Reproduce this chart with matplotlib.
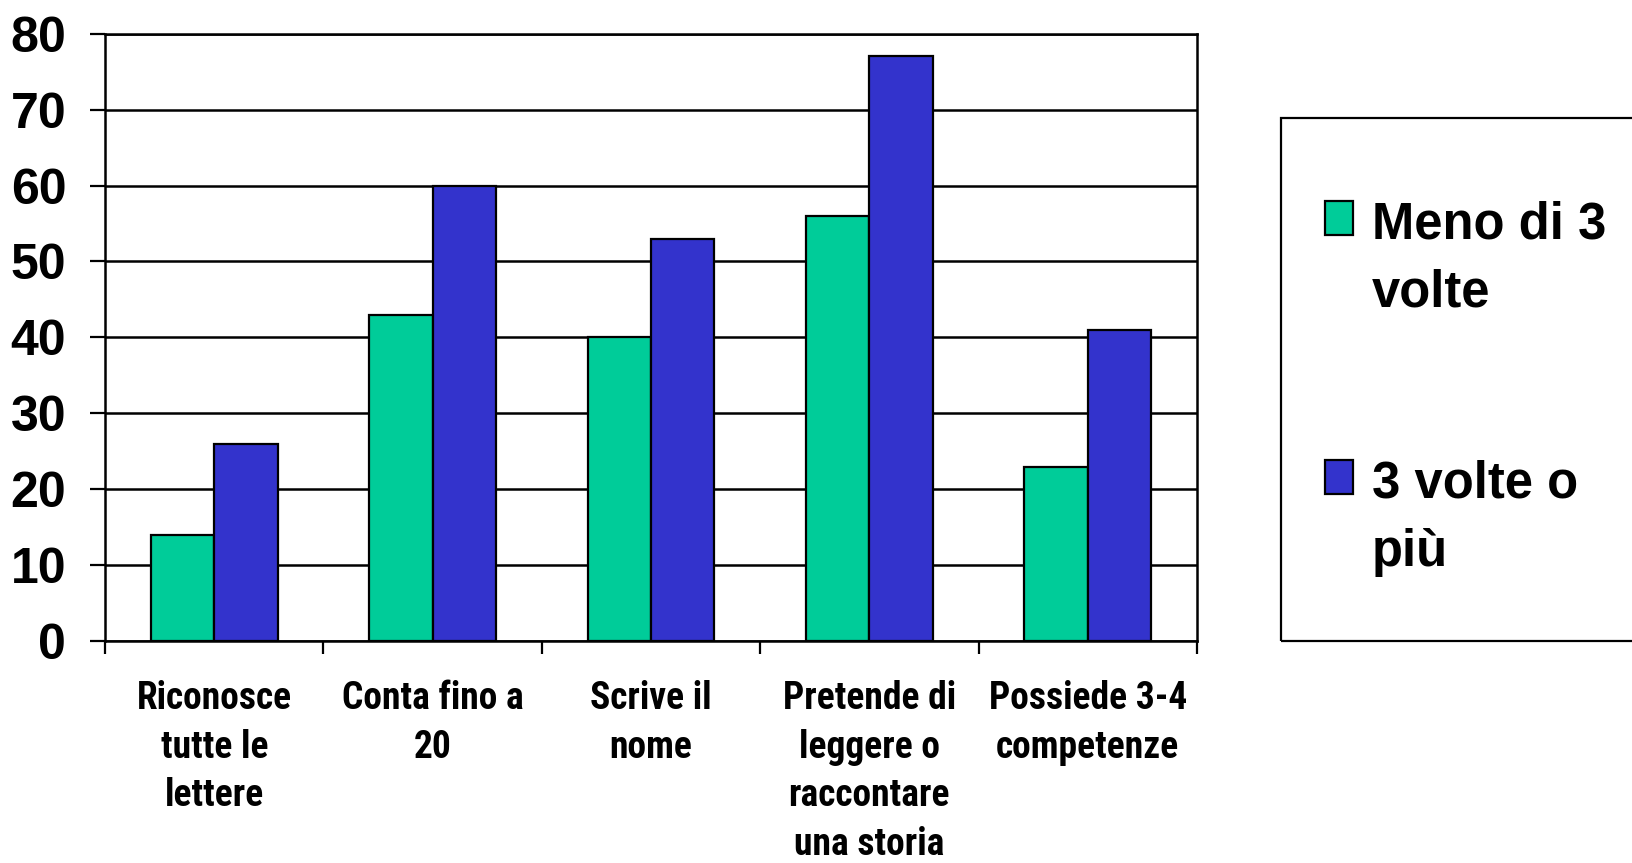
import numpy as np
import matplotlib.pyplot as plt
from matplotlib.patches import Rectangle

# Dati
categorie = ['Riconosce\ntutte le\nlettere', 'Conta fino a\n20', 'Scrive il\nnome',
             'Pretende di\nleggere o\nraccontare\nuna storia', 'Possiede 3-4\ncompetenze']
meno_di_3 = [14, 43, 40, 56, 23]
tre_o_piu = [26, 60, 53, 77, 41]
serie = ['Meno di 3\nvolte', '3 volte o\npiù']
colori = ['#00CC99', '#3333CC']

fig = plt.figure(figsize=(16.32, 8.63), dpi=100)
ax = fig.add_axes([0.0644, 0.257, 0.669, 0.704])

x = np.arange(len(categorie))
w = 0.29
ax.bar(x - w / 2, meno_di_3, w, color=colori[0], edgecolor='black', linewidth=1.6, zorder=3)
ax.bar(x + w / 2, tre_o_piu, w, color=colori[1], edgecolor='black', linewidth=1.6, zorder=3)

ax.set_xlim(-0.5, len(categorie) - 0.5)
ax.set_ylim(0, 80)
ax.set_yticks(np.arange(0, 81, 10))
ax.yaxis.grid(True, color='black', linewidth=1.8)
ax.set_axisbelow(True)

# tacche sui confini delle categorie, etichette al centro
ax.set_xticks(np.arange(-0.5, len(categorie), 1))
ax.set_xticklabels([])
ax.set_xticks(x, categorie, minor=True)
ax.tick_params(axis='x', which='major', length=9, width=1.6, direction='out')
ax.tick_params(axis='x', which='minor', length=0, pad=28)
ax.tick_params(axis='y', length=11, width=1.6, pad=17)

for s in ax.spines.values():
    s.set_linewidth(1.8)

for t in ax.get_yticklabels():
    t.set_family('Liberation Sans')
    t.set_fontweight('bold')
    t.set_fontsize(36)
for t in ax.get_xticklabels(minor=True):
    t.set_family(['Roboto Condensed', 'Liberation Sans'])
    t.set_fontweight('bold')
    t.set_fontsize(27)
    t.set_linespacing(1.40)
    t.set_verticalalignment('top')

# legenda: cornice che esce dal bordo destro, quadratini allineati alla prima riga
fig.add_artist(Rectangle((0.785, 0.2572), 0.3, 0.606, transform=fig.transFigure,
                         fill=False, edgecolor='black', linewidth=1.6))
for i, (nome, col) in enumerate(zip(serie, colori)):
    top = 0.7671 - i * 0.300
    fig.add_artist(Rectangle((0.8119, top - 0.0394), 0.0172, 0.0394, transform=fig.transFigure,
                             facecolor=col, edgecolor='black', linewidth=1.6))
    fig.text(0.8407, top, nome, va='top', ha='left', family='Liberation Sans',
             fontweight='bold', fontsize=36.5, linespacing=1.5)

fig.savefig('out.png', dpi=100)
